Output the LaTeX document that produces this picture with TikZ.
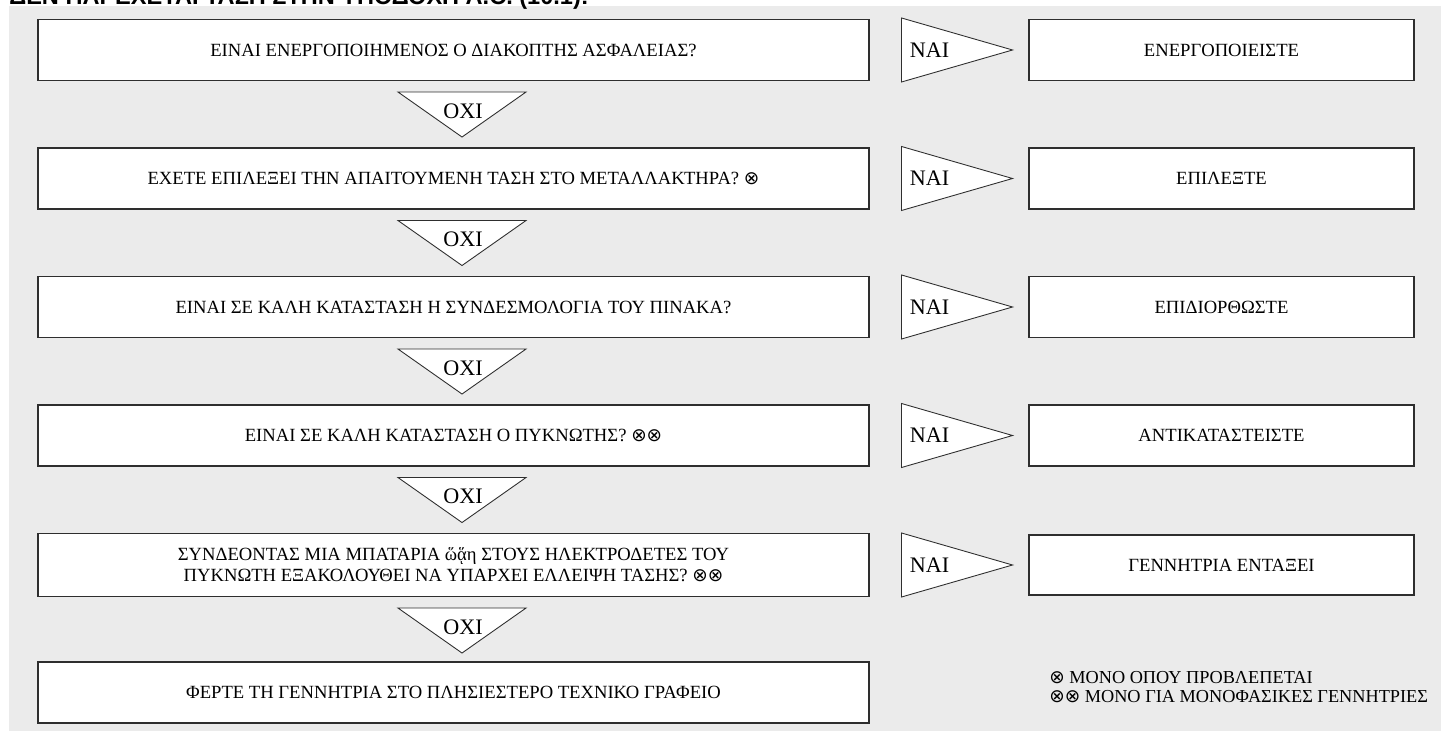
\documentclass[tikz,border=0pt]{standalone}
\usepackage{fontspec}
\setmainfont{Liberation Serif}
\newfontfamily\headfont{Liberation Sans}
\newfontfamily\symfont{DejaVu Sans}
\usetikzlibrary{positioning}
\usetikzlibrary{calc}
\definecolor{panel}{HTML}{EBEBEB}
\definecolor{edge}{HTML}{2E2E2E}
\newcommand{\ox}{{\symfont\fontsize{10.5}{10}\selectfont ⊗}}
\tikzset{qbox/.style={draw=edge, line width=0.6pt, rectangle, minimum width=16.62cm, minimum height=1.22cm, inner sep=0pt, fill=white, align=center, font=\fontsize{10.6}{12}\selectfont}}
\tikzset{abox/.style={qbox, minimum width=7.7cm}}
\tikzset{tri/.style={draw=edge, line width=0.5pt, fill=white, line join=miter}}
\tikzset{lbl/.style={inner sep=0pt, font=\fontsize{12.6}{14}\selectfont}}

\begin{document}
\begin{tikzpicture}
\useasboundingbox (0,0) rectangle (28.82,-14.62);
\fill[panel] (0.18,-0.12) rectangle (28.82,-14.62);
\node[anchor=base west, inner sep=0pt, font=\headfont\bfseries\fontsize{13.4}{16}\selectfont] (title) at (0.18,-0.10) {ΔΕΝ ΠΑΡΕΧΕΤΑΙ ΤΑΣΗ ΣΤΗΝ ΥΠΟΔΟΧΗ A.C. (10.1):};

\begin{scope}[on grid]

\node[qbox] (q1) at (9.07,-1.0) {ΕΙΝΑΙ ΕΝΕΡΓΟΠΟΙΗΜΕΝΟΣ Ο ΔΙΑΚΟΠΤΗΣ ΑΣΦΑΛΕΙΑΣ?};
\node[qbox] (q2) [below = 2.57 of q1] {ΕΧΕΤΕ ΕΠΙΛΕΞΕΙ ΤΗΝ ΑΠΑΙΤΟΥΜΕΝΗ ΤΑΣΗ ΣΤΟ ΜΕΤΑΛΛΑΚΤΗΡΑ? \ox};
\node[qbox] (q3) [below = 2.57 of q2] {ΕΙΝΑΙ ΣΕ ΚΑΛΗ ΚΑΤΑΣΤΑΣΗ Η ΣΥΝΔΕΣΜΟΛΟΓΙΑ ΤΟΥ ΠΙΝΑΚΑ?};
\node[qbox] (q4) [below = 2.57 of q3] {ΕΙΝΑΙ ΣΕ ΚΑΛΗ ΚΑΤΑΣΤΑΣΗ Ο ΠΥΚΝΩΤΗΣ? \ox\ox};
\node[qbox, minimum height=1.26cm] (q5) [below = 2.59 of q4] {ΣΥΝΔΕΟΝΤΑΣ ΜΙΑ ΜΠΑΤΑΡΙΑ ὥᾅη ΣΤΟΥΣ ΗΛΕΚΤΡΟΔΕΤΕΣ ΤΟΥ\\ΠΥΚΝΩΤΗ ΕΞΑΚΟΛΟΥΘΕΙ ΝΑ ΥΠΑΡΧΕΙ ΕΛΛΕΙΨΗ ΤΑΣΗΣ? \ox\ox};
\node[qbox] (q6) [below = 2.55 of q5] {ΦΕΡΤΕ ΤΗ ΓΕΝΝΗΤΡΙΑ ΣΤΟ ΠΛΗΣΙΕΣΤΕΡΟ ΤΕΧΝΙΚΟ ΓΡΑΦΕΙΟ};

\node[abox] (a1) [right = 15.36 of q1] {ΕΝΕΡΓΟΠΟΙΕΙΣΤΕ};
\node[abox] (a2) [right = 15.36 of q2] {ΕΠΙΛΕΞΤΕ};
\node[abox] (a3) [right = 15.36 of q3] {ΕΠΙΔΙΟΡΘΩΣΤΕ};
\node[abox] (a4) [right = 15.36 of q4] {ΑΝΤΙΚΑΤΑΣΤΕΙΣΤΕ};
\node[abox, minimum height=1.2cm] (a5) [right = 15.36 of q5] {ΓΕΝΝΗΤΡΙΑ ΕΝΤΑΞΕΙ};

% NAI
\draw[tri] ($(q1.east)+(0.64,0.64)$) -- ($(q1.east)+(2.86,0)$) -- ($(q1.east)+(0.64,-0.64)$) -- cycle;
\draw[tri] ($(q2.east)+(0.64,0.64)$) -- ($(q2.east)+(2.86,0)$) -- ($(q2.east)+(0.64,-0.64)$) -- cycle;
\draw[tri] ($(q3.east)+(0.64,0.64)$) -- ($(q3.east)+(2.86,0)$) -- ($(q3.east)+(0.64,-0.64)$) -- cycle;
\draw[tri] ($(q4.east)+(0.64,0.64)$) -- ($(q4.east)+(2.86,0)$) -- ($(q4.east)+(0.64,-0.64)$) -- cycle;
\draw[tri] ($(q5.east)+(0.64,0.64)$) -- ($(q5.east)+(2.86,0)$) -- ($(q5.east)+(0.64,-0.64)$) -- cycle;
\node[lbl] (y1) at ($(q1.east)+(1.2,0)$) {ΝΑΙ};
\node[lbl] (y2) at ($(q2.east)+(1.2,0)$) {ΝΑΙ};
\node[lbl] (y3) at ($(q3.east)+(1.2,0)$) {ΝΑΙ};
\node[lbl] (y4) at ($(q4.east)+(1.2,0)$) {ΝΑΙ};
\node[lbl] (y5) at ($(q5.east)+(1.2,0)$) {ΝΑΙ};

% OXI
\draw[tri] ($(q1.south)+(-1.11,-0.22)$) -- ($(q1.south)+(1.45,-0.22)$) -- ($(q1.south)+(0.17,-1.12)$) -- cycle;
\draw[tri] ($(q2.south)+(-1.11,-0.22)$) -- ($(q2.south)+(1.45,-0.22)$) -- ($(q2.south)+(0.17,-1.12)$) -- cycle;
\draw[tri] ($(q3.south)+(-1.11,-0.22)$) -- ($(q3.south)+(1.45,-0.22)$) -- ($(q3.south)+(0.17,-1.12)$) -- cycle;
\draw[tri] ($(q4.south)+(-1.11,-0.22)$) -- ($(q4.south)+(1.45,-0.22)$) -- ($(q4.south)+(0.17,-1.12)$) -- cycle;
\draw[tri] ($(q5.south)+(-1.11,-0.22)$) -- ($(q5.south)+(1.45,-0.22)$) -- ($(q5.south)+(0.17,-1.12)$) -- cycle;
\node[lbl] (n1) at ($(q1.south)+(0.19,-0.6)$) {ΟΧΙ};
\node[lbl] (n2) at ($(q2.south)+(0.19,-0.6)$) {ΟΧΙ};
\node[lbl] (n3) at ($(q3.south)+(0.19,-0.6)$) {ΟΧΙ};
\node[lbl] (n4) at ($(q4.south)+(0.19,-0.6)$) {ΟΧΙ};
\node[lbl] (n5) at ($(q5.south)+(0.19,-0.6)$) {ΟΧΙ};

\end{scope}

\node[inner sep=0pt, anchor=west, align=left, font=\fontsize{10.4}{10.8}\selectfont] (note) at (20.98,-13.75) {\ox\ ΜΟΝΟ ΟΠΟΥ ΠΡΟΒΛΕΠΕΤΑΙ\\\ox\ox\ ΜΟΝΟ ΓΙΑ ΜΟΝΟΦΑΣΙΚΕΣ ΓΕΝΝΗΤΡΙΕΣ};
\end{tikzpicture}
\end{document}
